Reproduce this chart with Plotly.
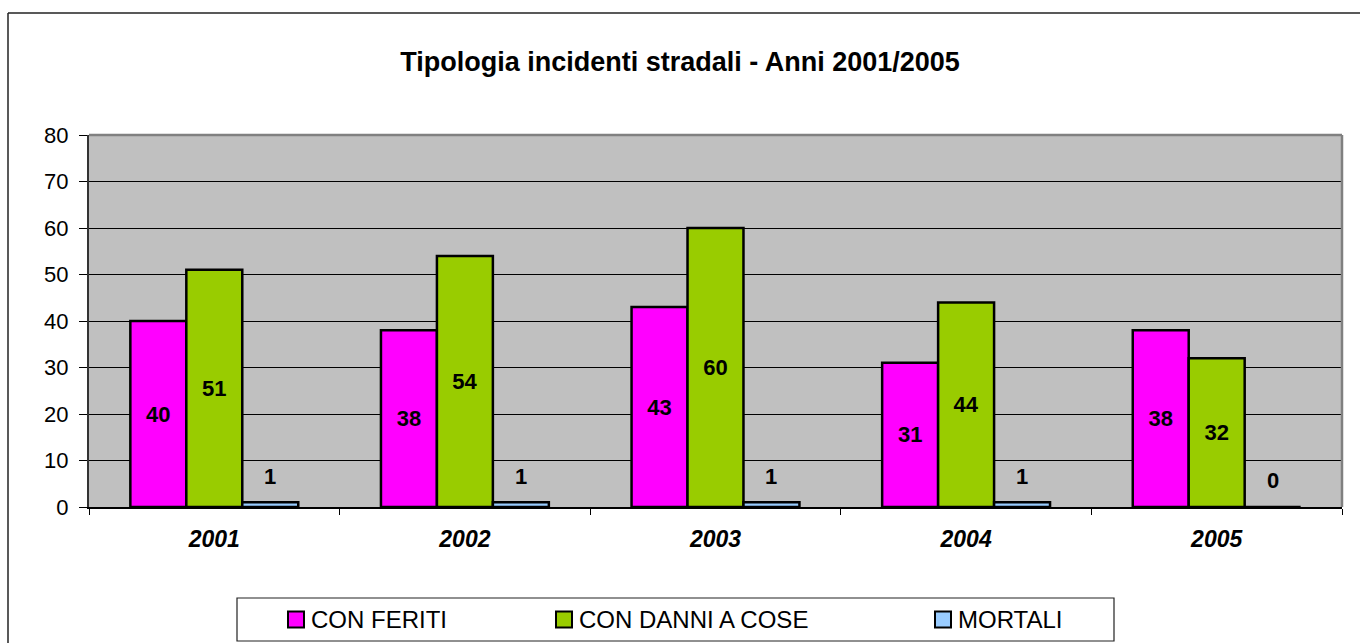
import plotly.graph_objects as go

# Incidenti stradali per tipologia, anni 2001-2005
anni = ["2001", "2002", "2003", "2004", "2005"]
con_feriti = [40, 38, 43, 31, 38]
con_danni_a_cose = [51, 54, 60, 44, 32]
mortali = [1, 1, 1, 1, 0]

serie_nomi = ["CON FERITI", "CON DANNI A COSE", "MORTALI"]
colori = ["#FF00FF", "#99CC00", "#99CCFF"]

FONT = "Liberation Sans, Arial, sans-serif"
W, H = 1360, 643
L, R, T, B = 89, 18, 135, 136
PW, PH = W - L - R, H - T - B
BARGAP = 0.33


def px_x(px):
    return (px - L) / PW


def px_y(py):
    return (H - B - py) / PH


fig = go.Figure()

for nome, valori, colore, etichette in [
    (serie_nomi[0], con_feriti, colori[0], True),
    (serie_nomi[1], con_danni_a_cose, colori[1], True),
    (serie_nomi[2], mortali, colori[2], False),
]:
    fig.add_trace(go.Bar(
        x=anni, y=valori, name=nome,
        marker=dict(color=colore, line=dict(color="black", width=2.5)),
        text=[str(v) for v in valori] if etichette else None,
        textposition="inside" if etichette else "none",
        insidetextanchor="middle",
        textfont=dict(family=FONT, size=22, color="black", weight="bold"),
        constraintext="none",
        showlegend=False,
    ))

# etichette dei mortali sopra le barre (x come indice di categoria)
larghezza_barra = (1 - BARGAP) / 3
for i, v in enumerate(mortali):
    fig.add_annotation(
        x=i + larghezza_barra, y=v, xref="x", yref="y", text=f"<b>{v}</b>",
        showarrow=False, yshift=27 - v * PH / 80 * 0.3,
        font=dict(family=FONT, size=22, color="black"),
    )

shapes = []
# bordo superiore e destro dell'area del grafico
shapes.append(dict(type="line", xref="paper", yref="paper", x0=0, x1=1, y0=1, y1=1,
                   line=dict(color="#808080", width=2.5)))
shapes.append(dict(type="line", xref="paper", yref="paper", x0=1, x1=1, y0=0, y1=1,
                   line=dict(color="#808080", width=2.5)))
# cornice esterna
shapes.append(dict(type="line", xref="paper", yref="paper", x0=px_x(8), x1=px_x(W + 5),
                   y0=px_y(13), y1=px_y(13), line=dict(color="#222", width=1.5)))
shapes.append(dict(type="line", xref="paper", yref="paper", x0=px_x(8), x1=px_x(8),
                   y0=px_y(13), y1=px_y(H + 5), line=dict(color="#222", width=1.5)))
# riquadro della legenda
shapes.append(dict(type="rect", xref="paper", yref="paper", x0=px_x(237), x1=px_x(1114),
                   y0=px_y(641), y1=px_y(598), line=dict(color="#222", width=1.2),
                   fillcolor="white"))

leg_sym_x = [288, 556, 935]
leg_y = 619.5
for nome, colore, sx in zip(serie_nomi, colori, leg_sym_x):
    shapes.append(dict(type="rect", xref="paper", yref="paper",
                       x0=px_x(sx), x1=px_x(sx + 16), y0=px_y(leg_y + 8), y1=px_y(leg_y - 8),
                       line=dict(color="black", width=2), fillcolor=colore))
    fig.add_annotation(x=px_x(sx + 21), y=px_y(leg_y), xref="paper", yref="paper",
                       text=nome, showarrow=False, xanchor="left", yanchor="middle",
                       font=dict(family=FONT, size=24, color="black"))

fig.update_layout(
    width=W, height=H,
    margin=dict(l=L, r=R, t=T, b=B),
    paper_bgcolor="white", plot_bgcolor="#C0C0C0",
    barmode="group", bargap=BARGAP, bargroupgap=0,
    title=dict(text="<b>Tipologia incidenti stradali - Anni 2001/2005</b>",
               x=0.5, xanchor="center", xref="container",
               y=1 - 62 / H, yref="container", yanchor="middle",
               font=dict(family=FONT, size=27, color="black")),
    shapes=shapes,
    xaxis=dict(type="category", range=[-0.5, len(anni) - 0.5],
               tickson="boundaries", ticks="outside", ticklen=6,
               tickcolor="black", tickwidth=1, showline=True, linecolor="black",
               linewidth=1.5, showgrid=False, ticklabelstandoff=11,
               tickfont=dict(family=FONT, size=23, color="black", weight="bold",
                             style="italic")),
    yaxis=dict(range=[0, 80], dtick=10, ticks="outside", ticklen=8, tickcolor="black",
               showline=True, linecolor="#333", linewidth=2, showgrid=True,
               gridcolor="black", gridwidth=1, zeroline=False, ticklabelstandoff=6,
               tickfont=dict(family=FONT, size=22, color="black")),
)

fig.write_html("out.html")
